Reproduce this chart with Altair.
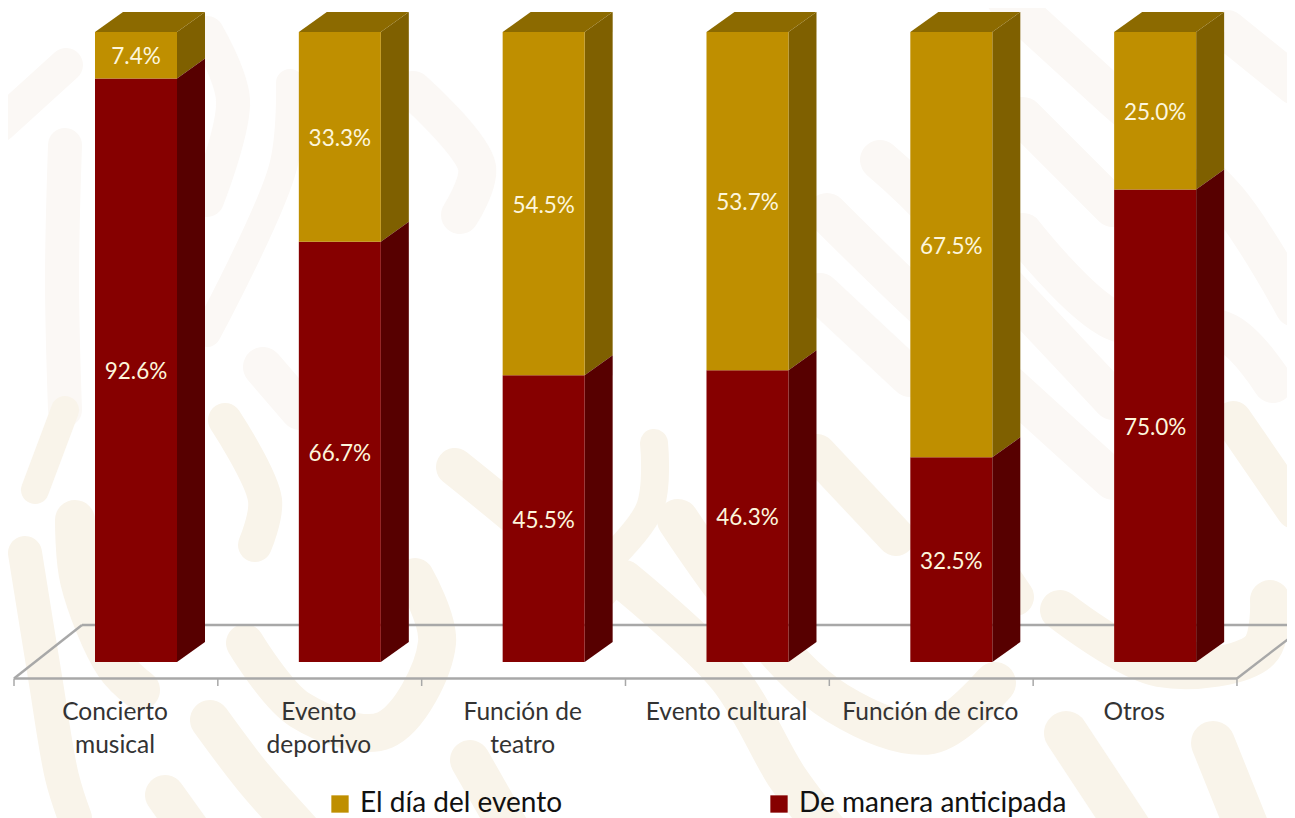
import altair as alt
import pandas as pd

categories = ["Concierto musical", "Evento deportivo", "Función de teatro",
              "Evento cultural", "Función de circo", "Otros"]
label_lines = [["Concierto", "musical"], ["Evento", "deportivo"], ["Función de", "teatro"],
               ["Evento cultural"], ["Función de circo"], ["Otros"]]
anticipada = [92.6, 66.7, 45.5, 46.3, 32.5, 75.0]
dia_evento = [7.4, 33.3, 54.5, 53.7, 67.5, 25.0]
series_names = ["El día del evento", "De manera anticipada"]
FRONT = {"El día del evento": "#bf8f00", "De manera anticipada": "#860000"}
SIDE = {"El día del evento": "#7f6000", "De manera anticipada": "#570000"}
TOP = "#8c6a00"
MOTIF_FAINT = "#fbf8f5"
MOTIF_STRONG = "#f9f4ea"

W, H = 1279, 810
PX_X = 203.83          # pixels per category slot
PX_Y = 6.3             # pixels per percentage point
X0, Y0 = 14, 662       # page position of slot 0 and of 0 %

def ux(px):
    return (px - X0) / PX_X

def uy(px):
    return (Y0 - px) / PX_Y

x_scale = alt.Scale(domain=[ux(8), ux(8 + W)], range=[0, W], nice=False, zero=False)
y_scale = alt.Scale(domain=[uy(8 + H), uy(8)], range=[H, 0], nice=False, zero=False)
X = lambda f: alt.X(f, type="quantitative", scale=x_scale, axis=None)
Y = lambda f: alt.Y(f, type="quantitative", scale=y_scale, axis=None, stack=None)

BAR_L, BAR_R = ux(95) - ux(14), ux(177) - ux(14)
DX, DY = 28 / PX_X, 20 / PX_Y

# decorative pale watermark strokes behind the chart (page pixels: x, y)
motif_faint = [
    (34, [(65, 145), (62, 280), (65, 410)]),
    (34, [(0, 125), (66, 65)]),
    (34, [(207, 33), (233, 100), (207, 200)]),
    (28, [(207, 333), (283, 167), (290, 83)]),
    (38, [(413, 90), (477, 167), (460, 215)]),
    (40, [(263, 367), (300, 410)]),
    (40, [(880, 160), (913, 190), (1113, 400)]),
    (40, [(827, 213), (913, 297), (1113, 480)]),
    (40, [(820, 293), (910, 377)]),
    (40, [(1007, 0), (1113, 97), (1227, 200), (1295, 307)]),
    (40, [(1023, 117), (1113, 207)]),
    (40, [(1227, 30), (1295, 85)]),
    (40, [(1023, 233), (1113, 320), (1227, 333), (1273, 383)]),
]
motif_strong = [
    (34, [(25, 553), (45, 677), (62, 777), (75, 818)]),
    (40, [(75, 520), (80, 580), (115, 665), (140, 690)]),
    (28, [(35, 490), (65, 410)]),
    (34, [(225, 420), (265, 500), (255, 545)]),
    (38, [(245, 643), (300, 710), (385, 730), (437, 643), (415, 577)]),
    (40, [(210, 720), (253, 777), (300, 830)]),
    (40, [(165, 795), (190, 830)]),
    (40, [(470, 760), (510, 830)]),
    (38, [(455, 467), (520, 520), (600, 590)]),
    (28, [(654, 443), (649, 510), (570, 597)]),
    (40, [(624, 580), (728, 677), (787, 777), (827, 830)]),
    (42, [(678, 520), (743, 610), (837, 703), (931, 733), (995, 683)]),
    (38, [(817, 453), (896, 537)]),
    (38, [(956, 510), (1015, 597)]),
    (44, [(1066, 733), (1130, 830)]),
    (44, [(1213, 743), (1248, 830)]),
    (40, [(1060, 610), (1160, 667), (1260, 650), (1270, 600)]),
    (38, [(1233, 420), (1295, 510)]),
]

def motif_layer(strokes, colour):
    rows = []
    for k, (w, pts) in enumerate(strokes):
        for i, (px, py) in enumerate(pts):
            rows.append({"g": k, "i": i, "x": ux(px), "y": uy(py), "w": w})
    return alt.Chart(pd.DataFrame(rows)).mark_line(
        color=colour, interpolate="catmull-rom", strokeCap="round", clip=True
    ).encode(x=X("x"), y=Y("y"), detail="g:N", order="i:Q",
             strokeWidth=alt.StrokeWidth("w:Q", scale=None))

# floor
FLOOR_Y = uy(678.5)
floor_back = uy(625)
floor_rows = []
for g, pts in enumerate([
    [(ux(14), FLOOR_Y), (6.0, FLOOR_Y)],
    [(ux(82), floor_back), (ux(1296), floor_back)],
    [(ux(14), FLOOR_Y), (ux(82), floor_back)],
    [(6.0, FLOOR_Y), (ux(1296), uy(633))],
]):
    for i, (a, b) in enumerate(pts):
        floor_rows.append({"g": g, "i": i, "x": a, "y": b})
floor = alt.Chart(pd.DataFrame(floor_rows)).mark_line(color="#a8a8a8", strokeWidth=2.4, clip=True).encode(
    x=X("x"), y=Y("y"), detail="g:N", order="i:Q")

ticks = alt.Chart(pd.DataFrame({"x": list(range(7)), "y": [FLOOR_Y] * 7, "y2": [uy(686)] * 7})).mark_rule(
    color="#a8a8a8", strokeWidth=1.5).encode(x=X("x"), y=Y("y"), y2="y2:Q")

# segments
seg_rows = []
for c, (a, d) in enumerate(zip(anticipada, dia_evento)):
    seg_rows.append({"cat": categories[c], "c": c, "serie": series_names[1], "lo": 0.0, "hi": a, "v": a})
    seg_rows.append({"cat": categories[c], "c": c, "serie": series_names[0], "lo": a, "hi": 100.0, "v": d})
seg = pd.DataFrame(seg_rows)
seg["x"] = seg["c"] + BAR_L
seg["x2"] = seg["c"] + BAR_R
seg["mid"] = (seg["lo"] + seg["hi"]) / 2
seg["xc"] = (seg["x"] + seg["x2"]) / 2
seg["txt"] = seg["v"].map(lambda v: f"{v:.1f}%")

front = alt.Chart(seg).mark_rect().encode(
    x=X("x"), x2="x2:Q", y=Y("lo"), y2="hi:Q",
    color=alt.Color("serie:N",
                    scale=alt.Scale(domain=series_names, range=[FRONT[s] for s in series_names]),
                    legend=alt.Legend(title=None, orient="none", legendX=318, legendY=782,
                                      direction="horizontal", columns=2, columnPadding=202,
                                      symbolType="square", symbolSize=300, symbolStrokeWidth=0,
                                      labelFont="Lato", labelFontSize=28, labelColor="#111111",
                                      labelOffset=6, labelLimit=320)))

side_layers = []
for s in series_names:
    rows = []
    for _, r in seg[seg.serie == s].iterrows():
        rows.append({"c": r.c, "x": r.x2, "y": r.lo, "y2": r.hi})
        rows.append({"c": r.c, "x": r.x2 + DX, "y": r.lo + DY, "y2": r.hi + DY})
    side_layers.append(alt.Chart(pd.DataFrame(rows)).mark_area(color=SIDE[s], interpolate="linear").encode(
        x=X("x"), y=Y("y"), y2="y2:Q", detail="c:N"))

top_rows = []
for c in range(len(categories)):
    L, R = c + BAR_L, c + BAR_R
    top_rows += [
        {"c": c, "x": L, "y": 100.0, "y2": 100.0},
        {"c": c, "x": L + DX, "y": 100.0, "y2": 100.0 + DY},
        {"c": c, "x": R, "y": 100.0, "y2": 100.0 + DY},
        {"c": c, "x": R + DX, "y": 100.0 + DY, "y2": 100.0 + DY},
    ]
top = alt.Chart(pd.DataFrame(top_rows)).mark_area(color=TOP, interpolate="linear").encode(
    x=X("x"), y=Y("y"), y2="y2:Q", detail="c:N")

values = alt.Chart(seg).mark_text(font="Lato", fontSize=22.5, color="#fdf6dc", align="center", baseline="middle", dy=2).encode(
    x=X("xc"), y=Y("mid"), text="txt:N")

lab_rows = []
for c, lines in enumerate(label_lines):
    for n, t in enumerate(lines):
        lab_rows.append({"x": c + ux(115) - ux(14), "y": uy(713 + 33 * n), "t": t})
labels = alt.Chart(pd.DataFrame(lab_rows)).mark_text(font="Lato", fontSize=24.5, color="#333333", align="center", baseline="middle").encode(
    x=X("x"), y=Y("y"), text="t:N")

chart = alt.layer(motif_layer(motif_faint, MOTIF_FAINT), motif_layer(motif_strong, MOTIF_STRONG),
                  floor, ticks, *side_layers, top, front, values, labels).properties(
    width=W, height=H, padding=0, background="white",
    autosize=alt.AutoSizeParams(type="none", contains="padding")
).configure_view(stroke=None)

chart.save("out.html", embed_options={"renderer": "svg", "actions": False})
